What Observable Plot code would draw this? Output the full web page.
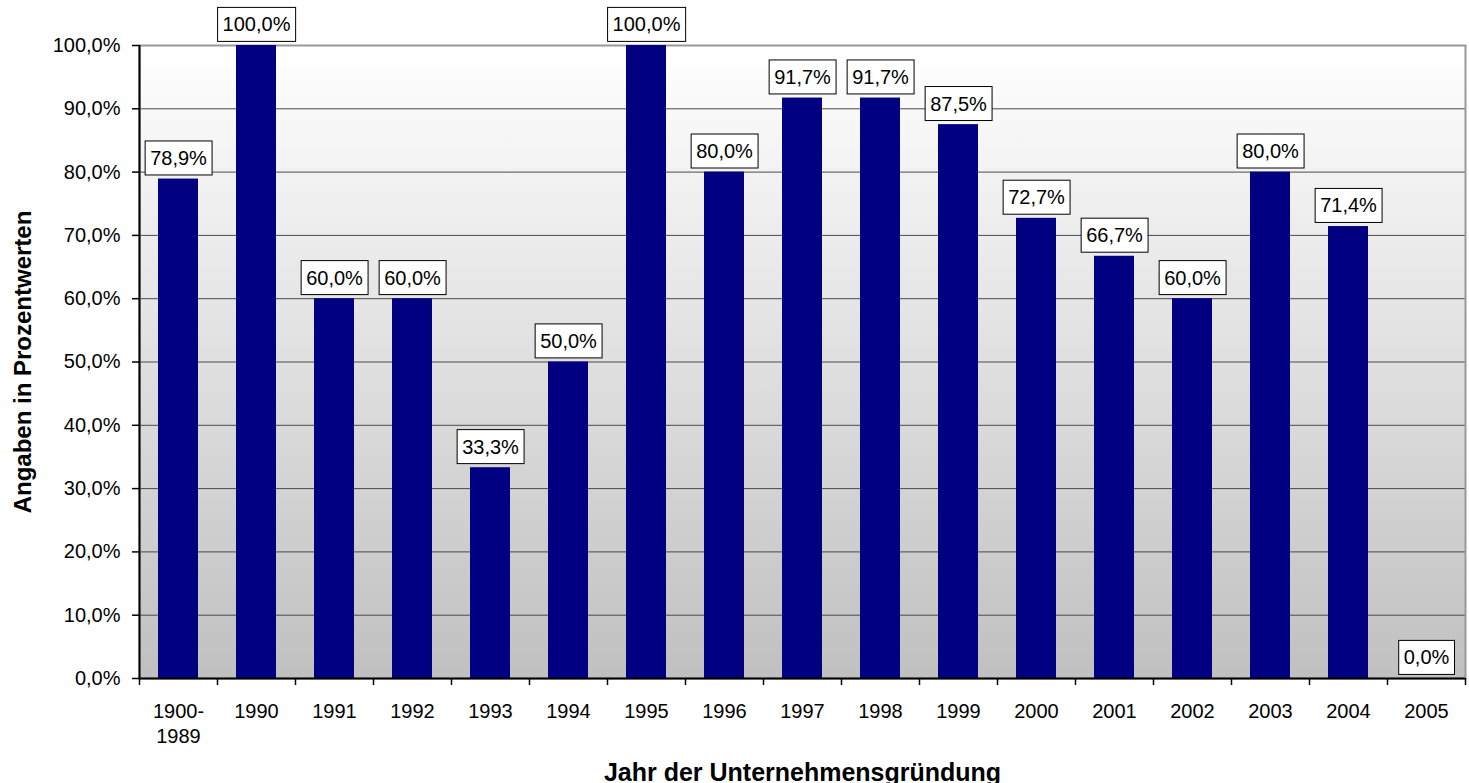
<!DOCTYPE html>
<html>
<head>
<meta charset="utf-8">
<script src="https://cdn.jsdelivr.net/npm/d3@7"></script>
<script src="https://cdn.jsdelivr.net/npm/@observablehq/plot@0.6"></script>
<style>
  html, body { margin: 0; padding: 0; background: #fff; }
  svg { display: block; }
</style>
</head>
<body>
<script>
const categories = ["1900-1989", "1990", "1991", "1992", "1993", "1994", "1995", "1996", "1997", "1998", "1999", "2000", "2001", "2002", "2003", "2004", "2005"];
const values = [78.9, 100.0, 60.0, 60.0, 33.3, 50.0, 100.0, 80.0, 91.7, 91.7, 87.5, 72.7, 66.7, 60.0, 80.0, 71.4, 0.0];
const yTicks = [0, 10, 20, 30, 40, 50, 60, 70, 80, 90, 100];
const gridValues = [10, 20, 30, 40, 50, 60, 70, 80, 90];
const yTitle = "Angaben in Prozentwerten";
const xTitle = "Jahr der Unternehmensgründung";

const data = categories.map((c, i) => ({cat: c, value: values[i]}));
const fmt = v => v.toFixed(1).replace(".", ",") + "%";

const W = 1469, H = 783;
const mL = 139, mR = 4, mT = 45, mB = 105;
const step = (W - mL - mR) / categories.length;
const FONT = "'Liberation Sans', Arial, sans-serif";

const chart = Plot.plot({
  width: W,
  height: H,
  marginLeft: mL,
  marginRight: mR,
  marginTop: mT,
  marginBottom: mB,
  style: {fontFamily: FONT, fontSize: "20px", color: "#000", background: "#fff", overflow: "visible"},
  x: {domain: categories, padding: 0, label: null},
  y: {domain: [0, 100], label: null},
  marks: [
    Plot.frame({fill: "url(#bggrad)", stroke: "none"}),
    Plot.ruleY(gridValues, {stroke: "#4a4a4a", strokeWidth: 1}),
    Plot.frame({stroke: "#999", strokeWidth: 2, fill: "none"}),
    Plot.barY(data, {x: "cat", y: "value", fill: "#000080", insetLeft: 19, insetRight: 19}),
    Plot.ruleY([0], {stroke: "#000", strokeWidth: 2}),
    Plot.ruleX([categories[0]], {x: d => d, dx: -step / 2, stroke: "#000", strokeWidth: 2}),
    Plot.ruleX(categories, {x: d => d, dx: -step / 2, y1: 0, y2: 0, insetBottom: -7, stroke: "#000", strokeWidth: 1.5}),
    Plot.ruleX([categories[categories.length - 1]], {x: d => d, dx: step / 2, y1: 0, y2: 0, insetBottom: -7, stroke: "#000", strokeWidth: 1.5}),
    Plot.axisY({ticks: yTicks, tickFormat: fmt, tickSize: 7, tickPadding: 12, label: null, fontSize: 20, strokeWidth: 1.5}),
    Plot.axisX({tickSize: 0, tickPadding: 22, lineHeight: 1.25, label: null, fontSize: 20,
      tickFormat: d => d === "1900-1989" ? "1900-\n1989" : d}),
    Plot.text(data, {x: "cat", y: "value", text: d => fmt(d.value), dy: -20.5, lineAnchor: "middle",
      fontSize: 20, fill: "#000", className: "vlabels"}),
    Plot.text([yTitle], {frameAnchor: "left", rotate: -90, dx: -116, text: d => d, fontSize: 24, fontWeight: "bold",
      textAnchor: "middle", lineAnchor: "middle"}),
    Plot.text([xTitle], {frameAnchor: "bottom", dy: 94, text: d => d, fontSize: 25, fontWeight: "bold",
      textAnchor: "middle", lineAnchor: "middle"})
  ]
});

document.body.appendChild(chart);

// gradient definition for plot background
const svg = chart.tagName.toLowerCase() === "svg" ? chart : chart.querySelector("svg");
const ns = "http://www.w3.org/2000/svg";
const defs = document.createElementNS(ns, "defs");
const grad = document.createElementNS(ns, "linearGradient");
grad.setAttribute("id", "bggrad");
grad.setAttribute("x1", "0"); grad.setAttribute("y1", "0");
grad.setAttribute("x2", "0"); grad.setAttribute("y2", "1");
[["0%", "#ffffff"], ["100%", "#c0c0c0"]].forEach(([o, c]) => {
  const s = document.createElementNS(ns, "stop");
  s.setAttribute("offset", o); s.setAttribute("stop-color", c);
  grad.appendChild(s);
});
defs.appendChild(grad);
svg.insertBefore(defs, svg.firstChild);

// boxes around value labels
svg.querySelectorAll(".vlabels text").forEach(t => {
  const b = t.getBBox();
  const cy = b.y + b.height / 2;
  const r = document.createElementNS(ns, "rect");
  r.setAttribute("x", b.x - 5);
  r.setAttribute("y", cy - 17);
  r.setAttribute("width", b.width + 10);
  r.setAttribute("height", 34);
  r.setAttribute("fill", "#fff");
  r.setAttribute("stroke", "#000");
  r.setAttribute("stroke-width", 1);
  const tr = t.getAttribute("transform");
  if (tr) r.setAttribute("transform", tr);
  t.parentNode.insertBefore(r, t);
});
</script>
</body>
</html>
